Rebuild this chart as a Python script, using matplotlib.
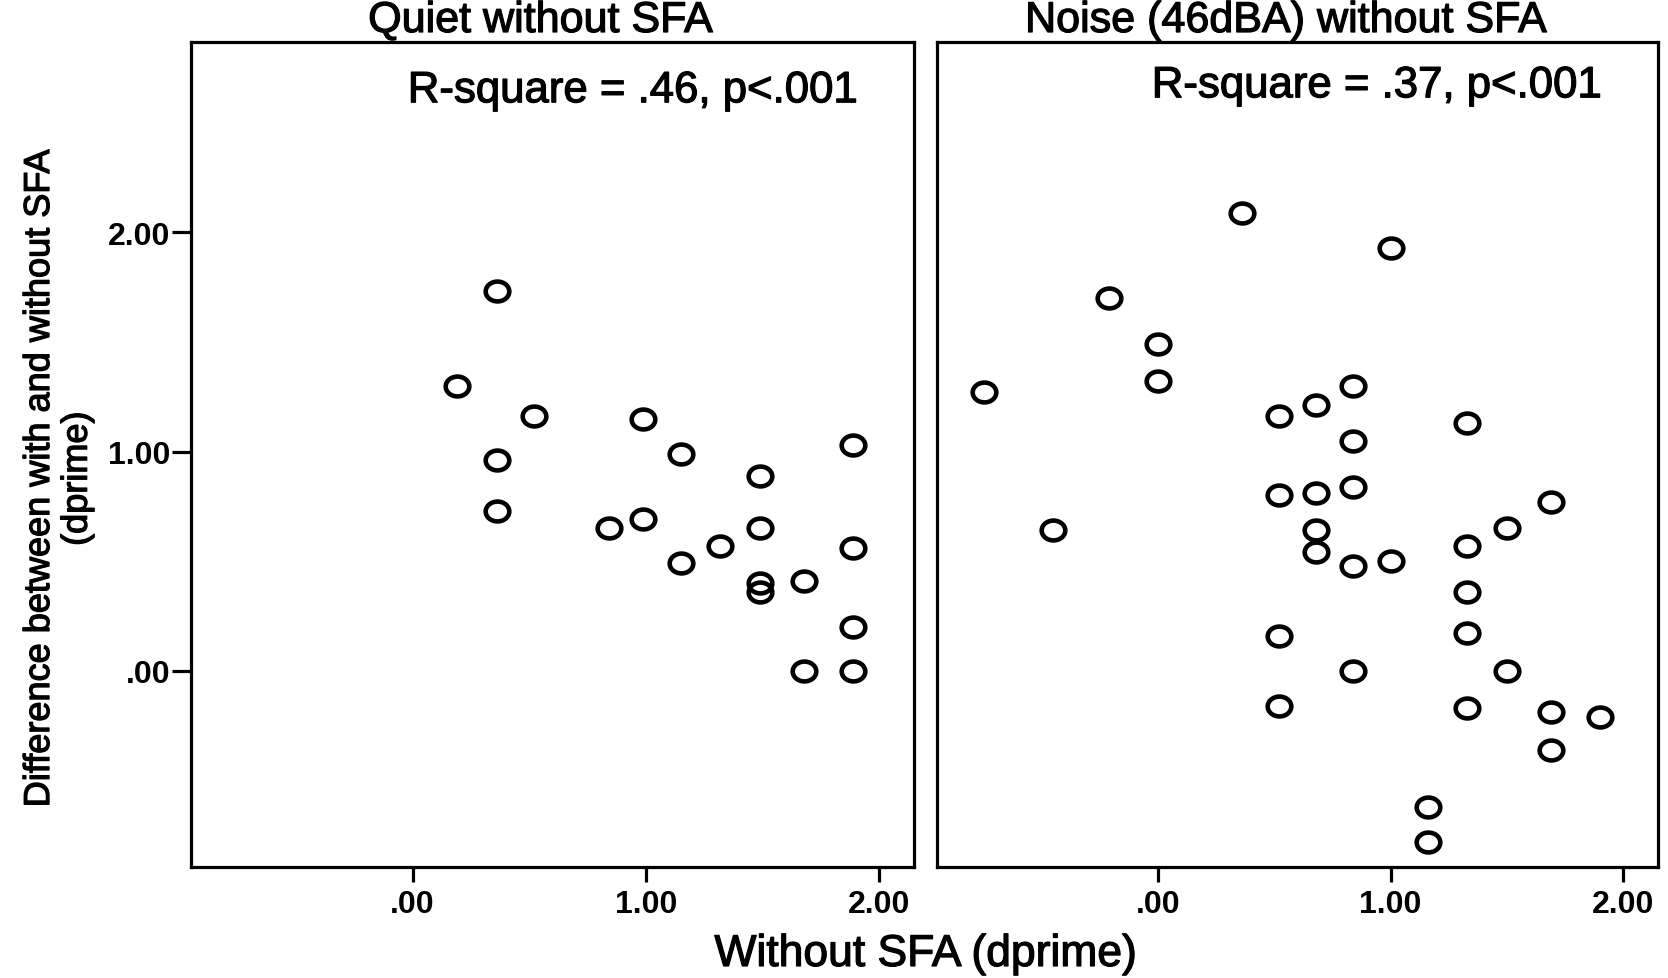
import numpy as np
import matplotlib
matplotlib.use("Agg")
import matplotlib.pyplot as plt
import matplotlib.patheffects as pe
from matplotlib.path import Path
from matplotlib.transforms import Affine2D

plt.rcParams['font.family'] = ['Liberation Sans', 'DejaVu Sans']

# data (dprime)
quiet_x = [0.19, 0.36, 0.36, 0.36, 0.52, 0.84, 0.99, 0.99, 1.15, 1.15, 1.32,
           1.49, 1.49, 1.49, 1.49, 1.68, 1.68, 1.89, 1.89, 1.89, 1.89]
quiet_y = [1.30, 1.73, 0.96, 0.73, 1.16, 0.65, 1.15, 0.69, 0.99, 0.49, 0.57,
           0.89, 0.65, 0.40, 0.36, 0.41, 0.00, 1.03, 0.56, 0.20, 0.00]

noise_x = [0.36, 1.00, -0.21, 0.00, 0.00, -0.75, 0.84, 0.68, 0.52, 1.33, 0.84,
           0.84, 0.68, 0.52, 1.69, -0.45, 0.68, 0.68, 1.50, 1.33, 0.84, 1.00,
           1.33, 0.52, 1.33, 0.84, 1.50, 0.52, 1.33, 1.69, 1.90, 1.69, 1.16, 1.16]
noise_y = [2.09, 1.93, 1.70, 1.49, 1.32, 1.27, 1.30, 1.21, 1.16, 1.13, 1.05,
           0.84, 0.81, 0.80, 0.77, 0.64, 0.64, 0.54, 0.65, 0.57, 0.48, 0.50,
           0.36, 0.16, 0.17, 0.00, 0.00, -0.16, -0.17, -0.19, -0.21, -0.36, -0.62, -0.78]

panel_titles = ['Quiet without SFA', 'Noise (46dBA) without SFA']
fit_notes = ['R-square = .46, p<.001', 'R-square = .37, p<.001']
tick_vals = [0, 1, 2]
tick_labels = ['.00', '1.00', '2.00']

ring = Affine2D().scale(1.0, 0.84).transform_path(Path.unit_circle())
heavy = [pe.withStroke(linewidth=0.9, foreground='black')]

fig = plt.figure(figsize=(16.68, 9.79), dpi=100)
ax1 = fig.add_axes([0.1145, 0.1134, 0.4335, 0.8427])
ax2 = fig.add_axes([0.5618, 0.1134, 0.4323, 0.8427])

panels = [(ax1, quiet_x, quiet_y), (ax2, noise_x, noise_y)]
for i, (ax, xs, ys) in enumerate(panels):
    ax.plot(xs, ys, linestyle='none', marker=ring, markersize=17,
            markerfacecolor='none', markeredgecolor='black', markeredgewidth=3.3)
    ax.set_xlim(-0.95, 2.15)
    ax.set_ylim(-0.895, 2.868)
    for s in ax.spines.values():
        s.set_linewidth(2.3)
    ax.set_xticks(tick_vals)
    ax.set_xticklabels(tick_labels, fontsize=23, fontweight='bold')
    ax.tick_params(axis='x', length=11, width=2.3, pad=5)
    # panel title sits just above the frame
    ax.text(0.483, 1.0121, panel_titles[i], transform=ax.transAxes,
            ha='center', va='baseline', fontsize=31, path_effects=heavy)
    ax.text(0.922, 0.927 if i == 0 else 0.933, fit_notes[i], transform=ax.transAxes,
            ha='right', va='baseline', fontsize=31.5, path_effects=heavy)

ax1.set_yticks(tick_vals)
ax1.set_yticklabels(tick_labels, fontsize=23, fontweight='bold')
ax1.tick_params(axis='y', length=14, width=2.3, pad=1)
ax2.set_yticks([])

fig.text(0.555, 0.0123, 'Without SFA (dprime)', ha='center', va='baseline',
         fontsize=32, path_effects=heavy)
fig.text(0.035, 0.51, 'Difference between with and without SFA\n(dprime)',
         rotation=90, ha='center', va='center', fontsize=26, linespacing=1.1,
         multialignment='center', path_effects=heavy)

fig.savefig('out.png', dpi=100, facecolor='white')
